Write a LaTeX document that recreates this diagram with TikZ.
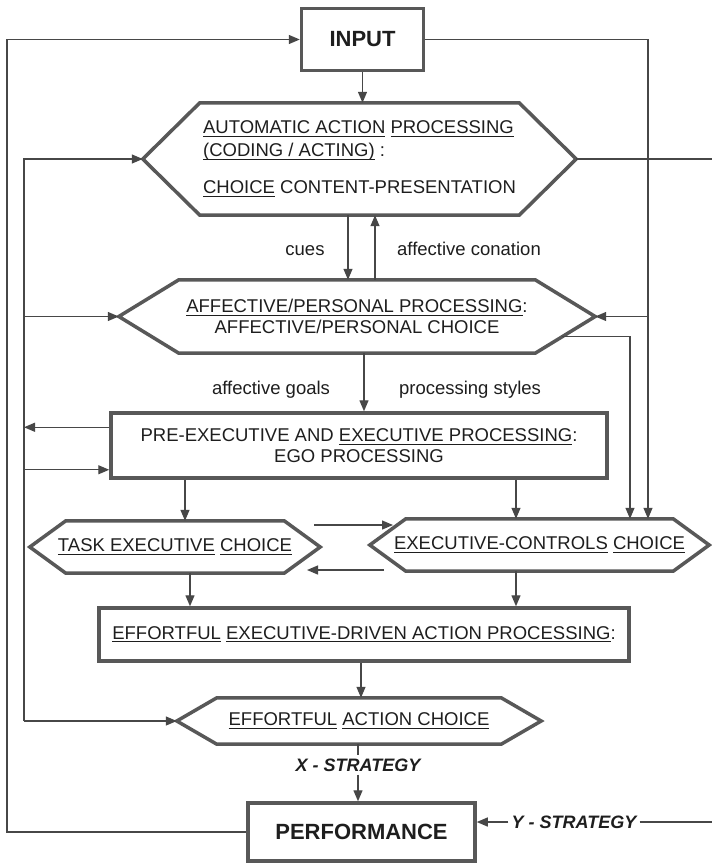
\documentclass[tikz,border=0pt]{standalone}
\usepackage{fontspec}
\setmainfont{Liberation Sans}
\usetikzlibrary{arrows.meta,calc}
\definecolor{bx}{HTML}{585858}
\definecolor{cn}{HTML}{474747}
\definecolor{tx}{HTML}{1E1E1E}
\newcommand{\ulx}[1]{\setbox0\hbox{#1}\rlap{\rule[-3pt]{\wd0}{1.1pt}}\box0\relax}
\newcommand{\fs}{\fontsize{18.5}{20.5}\selectfont}
\newcommand{\bigf}{\fontsize{22}{24}\selectfont\bfseries}
\newcommand{\strf}{\fontsize{18}{20}\selectfont\bfseries\itshape}
\newcommand{\drawhex}[2]{\draw[hexline] ([xshift=#2]#1.north west) -- ([xshift=-#2]#1.north east) -- (#1.east) -- ([xshift=-#2]#1.south east) -- ([xshift=#2]#1.south west) -- (#1.west) -- cycle;}
\tikzset{
  box/.style={draw=bx, line width=3.5pt, inner sep=0pt, font=\fs, text=tx, align=center},
  hexn/.style={inner sep=0pt, font=\fs, text=tx, align=center},
  hexline/.style={draw=bx, line width=3.5pt, line join=miter},
  conn/.style={draw=cn, line width=1.3pt},
  arr/.style={conn, -{Triangle[length=11pt,width=9pt,fill=cn]}},
  lab/.style={font=\fs, text=tx, inner sep=1pt, anchor=base},
  strat/.style={font=\strf, text=tx, inner sep=3pt}
}
\begin{document}
\begin{tikzpicture}[x=1pt,y=-1pt]
\useasboundingbox (0,0) rectangle (712,863);
\fill[white] (0,0) rectangle (712,863);
\coordinate (oL) at (7,0);
\coordinate (iL) at (24,0);
\coordinate (rR) at (648,0);
\coordinate (rR2) at (630,0);
\coordinate (eR) at (712,0);
\coordinate (cx) at (348,0);
\coordinate (acx) at (375,0);
\coordinate (gx) at (364,0);
\coordinate (tx1) at (185,0);
\coordinate (ex1) at (516,0);
\coordinate (tx2) at (190,0);
\coordinate (ax) at (361,0);

% nodes
\node[box, minimum width=122pt, minimum height=62pt, font=\bigf] (input) at (362.5,39.5) {INPUT};
\node[hexn, minimum width=433pt, minimum height=112pt, font=\fontsize{18.5}{23}\selectfont, align=left] (h1) at (359.5,159)
  {\ulx{AUTOMATIC ACTION} \ulx{PROCESSING}\\ \ulx{(CODING / ACTING)} :\\[14pt] \ulx{CHOICE} CONTENT-PRESENTATION};
\node[hexn, minimum width=476pt, minimum height=73pt] (h2) at (357,316.5)
  {\ulx{AFFECTIVE/PERSONAL PROCESSING}:\\ AFFECTIVE/PERSONAL CHOICE};
\node[box, minimum width=496pt, minimum height=65pt] (pre) at (359,445.5)
  {PRE-EXECUTIVE AND \ulx{EXECUTIVE PROCESSING}:\\ EGO PROCESSING};
\node[hexn, minimum width=290pt, minimum height=52pt] (task) at (175,547)
  {\ulx{TASK EXECUTIVE} \ulx{CHOICE}};
\node[hexn, minimum width=339pt, minimum height=52pt] (exec) at (539.5,545)
  {\ulx{EXECUTIVE-CONTROLS} \ulx{CHOICE}};
\node[box, minimum width=530pt, minimum height=53pt] (eff) at (364,634.5)
  {\ulx{EFFORTFUL} \ulx{EXECUTIVE-DRIVEN ACTION PROCESSING}:};
\node[hexn, minimum width=364pt, minimum height=46pt] (h4) at (359,721)
  {\ulx{EFFORTFUL} \ulx{ACTION CHOICE}};
\node[box, minimum width=227pt, minimum height=58pt, font=\bigf] (perf) at (361.5,832) {PERFORMANCE};

\drawhex{h1}{57pt}
\drawhex{h2}{60pt}
\drawhex{task}{36pt}
\drawhex{exec}{36pt}
\drawhex{h4}{40pt}

% labels
\node[lab] (cues) at (305,255) {cues};
\node[lab] (acon) at (469,255) {affective conation};
\node[lab] (agoal) at (271,394) {affective goals};
\node[lab] (pstyle) at (470,394) {processing styles};
\node[strat] (xs) at (358,765) {X - STRATEGY};
\node[strat] (ys) at (574,822) {Y - STRATEGY};

% connectors
\draw[arr] (input.south) -- (input.south |- h1.north);
\draw[arr] (perf.west) -- (perf.west -| oL) -- (oL |- input.west) -- (input.west);
\draw[arr] (input.east) -- (input.east -| rR) -- (rR |- exec.north);
\draw[arr] (rR |- h2.east) -- (h2.east);
\draw[conn] (h1.east) -- (h1.east -| eR);

\draw[arr] (iL |- h4.west) -- (iL |- h1.west) -- (h1.west);
\draw[arr] (iL |- h2.west) -- (h2.west);
\draw[arr] (iL |- h4.west) -- (h4.west);
\coordinate (preOut) at ([yshift=-16pt]pre.north west);
\coordinate (preIn) at ([yshift=10pt]pre.south west);
\draw[arr] (preOut) -- (preOut -| iL);
\draw[arr] (preIn -| iL) -- (preIn);

\draw[arr] (h1.south -| cx) -- (h2.north -| cx);
\draw[arr] (h2.north -| acx) -- (h1.south -| acx);

\coordinate (h2lr) at ($(h2.east)!0.55!([xshift=-60pt]h2.south east)$);
\draw[arr] (h2lr) -- (h2lr -| rR2) -- (rR2 |- exec.north);

\draw[arr] (h2.south -| gx) -- (pre.north -| gx);
\draw[arr] (pre.south -| tx1) -- (task.north -| tx1);
\draw[arr] (pre.south -| ex1) -- (exec.north -| ex1);

\coordinate (rA) at (314,525);
\coordinate (rB) at (393,525);
\coordinate (lA) at (384,570);
\coordinate (lB) at (307,570);
\draw[arr] (rA) -- (rB);
\draw[arr] (lA) -- (lB);

\draw[arr] (task.south -| tx2) -- (eff.north -| tx2);
\draw[arr] (exec.south -| ex1) -- (eff.north -| ex1);
\draw[arr] (eff.south -| ax) -- (h4.north -| ax);

\draw[conn] (xs.north |- h4.south) -- (xs.north);
\draw[arr] (xs.south) -- (xs.south |- perf.north);

\draw[arr] (ys.west) -- (ys.west -| perf.east);
\draw[conn] (ys.east) -- (ys.east -| eR);
\end{tikzpicture}
\end{document}
